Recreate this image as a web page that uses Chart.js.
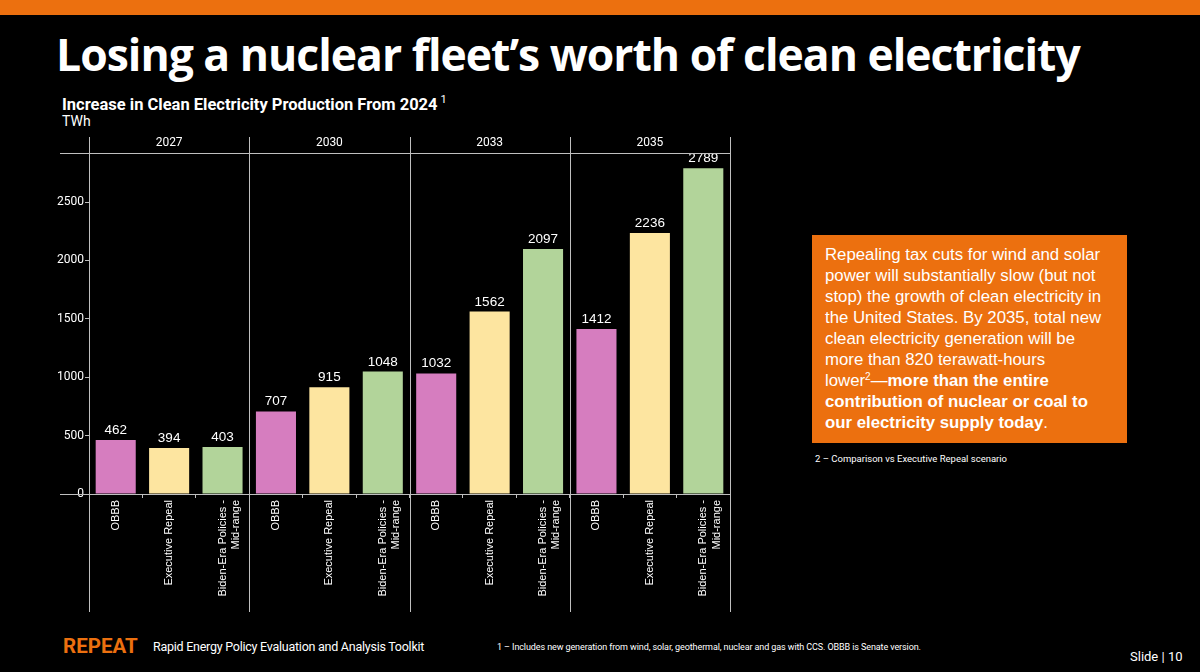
<!DOCTYPE html>
<html>
<head>
    <meta charset="utf-8">
    <script src="https://cdn.jsdelivr.net/npm/chart.js"></script>
    <title>Losing a nuclear fleet's worth of clean electricity</title>
    <style>
      * {
        margin: 0;
        padding: 0;
      }
      body {
        width: 1200px;
        height: 672px;
        background: #000;
        color: #fff;
        position: relative;
        overflow: hidden;
        font-family: "Liberation Sans", Arial, sans-serif;
      }
      .topBar {
        position: absolute;
        left: 0; top: 0;
        width: 1200px; height: 15px;
        background: #EC700F;
      }
      h1 {
        position: absolute;
        left: 56px; top: 23px;
        font-family: "Open Sans", sans-serif;
        font-weight: 700;
        font-size: 44.5px;
        letter-spacing: -1px;
        white-space: nowrap;
      }
      .subtitle {
        position: absolute;
        left: 62px; top: 93px;
        font-family: Roboto, sans-serif;
        font-weight: bold;
        font-size: 16.5px;
        white-space: nowrap;
      }
      .subtitle sup { font-weight: normal; font-size: 11px; vertical-align: 7px; margin-left: 3px; }
      .unit {
        position: absolute;
        left: 62px; top: 113px;
        font-family: Roboto, sans-serif;
        font-size: 14px;
      }
      .chartBox {
        position: absolute;
        left: 0; top: 130px;
        width: 740px; height: 490px;
      }
      .callout {
        position: absolute;
        left: 812px; top: 235px;
        width: 315px; height: 208px;
        box-sizing: border-box;
        padding: 9px 0 0 13px;
        background: #EC700F;
        font-size: 16.8px;
        line-height: 21px;
        white-space: nowrap;
      }
      .callout sup { font-size: 10px; vertical-align: 6px; line-height: 0; }
      .note2 {
        position: absolute;
        left: 815px; top: 453px;
        font-family: Roboto, sans-serif;
        font-size: 9.5px;
        white-space: nowrap;
      }
      .brand {
        position: absolute;
        left: 63px; top: 634px;
        font-family: Roboto, sans-serif;
        font-weight: bold;
        font-size: 20.5px;
        color: #EC700F;
      }
      .brandName {
        position: absolute;
        left: 153px; top: 639px;
        font-family: Roboto, sans-serif;
        font-size: 12.5px;
        letter-spacing: -0.25px;
        white-space: nowrap;
      }
      .note1 {
        position: absolute;
        left: 497px; top: 642px;
        font-family: Roboto, sans-serif;
        font-size: 9px;
        letter-spacing: -0.1px;
        white-space: nowrap;
      }
      .slide {
        position: absolute;
        left: 1130px; top: 649px;
        font-family: Roboto, sans-serif;
        font-size: 13px;
        white-space: nowrap;
      }
    </style>
</head>
<body>
    <div class="topBar"></div>
    <h1>Losing a nuclear fleet’s worth of clean electricity</h1>
    <div class="subtitle">Increase in Clean Electricity Production From 2024<sup>1</sup></div>
    <div class="unit">TWh</div>
    <div class="chartBox">
        <canvas id="chart"></canvas>
    </div>
    <div class="callout">Repealing tax cuts for wind and solar<br>power will substantially slow (but not<br>stop) the growth of clean electricity in<br>the United States. By 2035, total new<br>clean electricity generation will be<br>more than 820 terawatt-hours<br>lower<sup>2</sup>—<b>more than the entire<br>contribution of nuclear or coal to<br>our electricity supply today</b>.</div>
    <div class="note2">2 – Comparison vs Executive Repeal scenario</div>
    <div class="brand">REPEAT</div>
    <div class="brandName">Rapid Energy Policy Evaluation and Analysis Toolkit</div>
    <div class="note1">1 – Includes new generation from wind, solar, geothermal, nuclear and gas with CCS. OBBB is Senate version.</div>
    <div class="slide">Slide | 10</div>
</body>
<script>
    // data
    const years = ['2027', '2030', '2033', '2035'];
    const scenarios = ['OBBB', 'Executive Repeal', ['Biden-Era Policies -', 'Mid-range']];
    const scenarioColors = ['#D67DBF', '#FDE5A0', '#B2D49A'];
    const values = [462, 394, 403, 707, 915, 1048, 1032, 1562, 2097, 1412, 2236, 2789];
    const yTicks = [0, 500, 1000, 1500, 2000, 2500];

    const labels = years.flatMap(() => scenarios);
    const colors = years.flatMap(() => scenarioColors);
    const lineColor = '#bfbfbf';

    // bar value labels
    const valueLabels = {
        id: 'valueLabels',
        afterDatasetsDraw(chart) {
            const ctx = chart.ctx;
            const meta = chart.getDatasetMeta(0);
            ctx.save();
            ctx.fillStyle = '#fff';
            ctx.font = '13.5px "Liberation Sans", Arial, sans-serif';
            ctx.textAlign = 'center';
            ctx.textBaseline = 'alphabetic';
            meta.data.forEach((bar, i) => {
                ctx.fillText(values[i], bar.x, bar.y - 6);
            });
            ctx.restore();
        }
    };

    // frame: header line, baseline and year separators
    const frame = {
        id: 'frame',
        afterDraw(chart) {
            const ctx = chart.ctx;
            const area = chart.chartArea;
            const x = chart.scales.x;
            const y = chart.scales.y;
            ctx.save();
            ctx.strokeStyle = lineColor;
            ctx.lineWidth = 1;
            ctx.beginPath();
            const top = Math.round(area.top) + 0.5;
            const base = Math.round(y.getPixelForValue(0)) + 0.5;
            ctx.moveTo(60, top); ctx.lineTo(area.right, top);
            ctx.moveTo(60, base); ctx.lineTo(area.right, base);
            for (let k = 0; k <= years.length; k++) {
                let px;
                if (k === 0) px = area.left;
                else if (k === years.length) px = area.right;
                else px = (x.getPixelForValue(3 * k - 1) + x.getPixelForValue(3 * k)) / 2;
                px = Math.round(px) + 0.5;
                ctx.moveTo(px, 7);
                ctx.lineTo(px, 482);
            }
            ctx.stroke();
            ctx.restore();
        }
    };

    const config = {
        type: 'bar',
        data: {
            labels,
            datasets: [{
                data: values,
                backgroundColor: colors,
                barPercentage: 0.75,
                categoryPercentage: 1
            }]
        },
        options: {
            responsive: true,
            maintainAspectRatio: false,
            animation: false,
            layout: { padding: { left: 0, right: 10, top: 0, bottom: 0 } },
            plugins: {
                legend: { display: false },
                tooltip: { enabled: false }
            },
            scales: {
                x: {
                    type: 'category',
                    position: 'bottom',
                    afterFit: s => { s.height = 126; },
                    border: { display: false },
                    grid: {
                        display: true,
                        drawOnChartArea: false,
                        offset: true,
                        tickLength: 4,
                        color: lineColor
                    },
                    ticks: {
                        color: '#fff',
                        minRotation: 90,
                        maxRotation: 90,
                        autoSkip: false,
                        padding: 2,
                        font: { family: '"Liberation Sans", Arial, sans-serif', size: 11, lineHeight: 1.2 }
                    }
                },
                x2: {
                    type: 'category',
                    position: 'top',
                    labels: years,
                    afterFit: s => { s.height = 23; },
                    border: { display: false },
                    grid: { display: false, drawTicks: false },
                    ticks: {
                        color: '#fff',
                        padding: 3,
                        font: { family: 'Roboto, sans-serif', size: 12 }
                    }
                },
                y: {
                    min: 0,
                    max: 2920,
                    afterFit: s => { s.width = 89; },
                    afterBuildTicks: s => { s.ticks = yTicks.map(v => ({ value: v })); },
                    border: { display: false },
                    grid: {
                        display: true,
                        drawOnChartArea: false,
                        tickLength: 4,
                        color: lineColor
                    },
                    ticks: {
                        color: '#fff',
                        padding: 1,
                        callback: v => String(v),
                        font: { family: 'Roboto, sans-serif', size: 12 }
                    }
                }
            }
        },
        plugins: [valueLabels, frame]
    };

    const chart = new Chart(document.getElementById('chart'), config);
</script>
</html>
